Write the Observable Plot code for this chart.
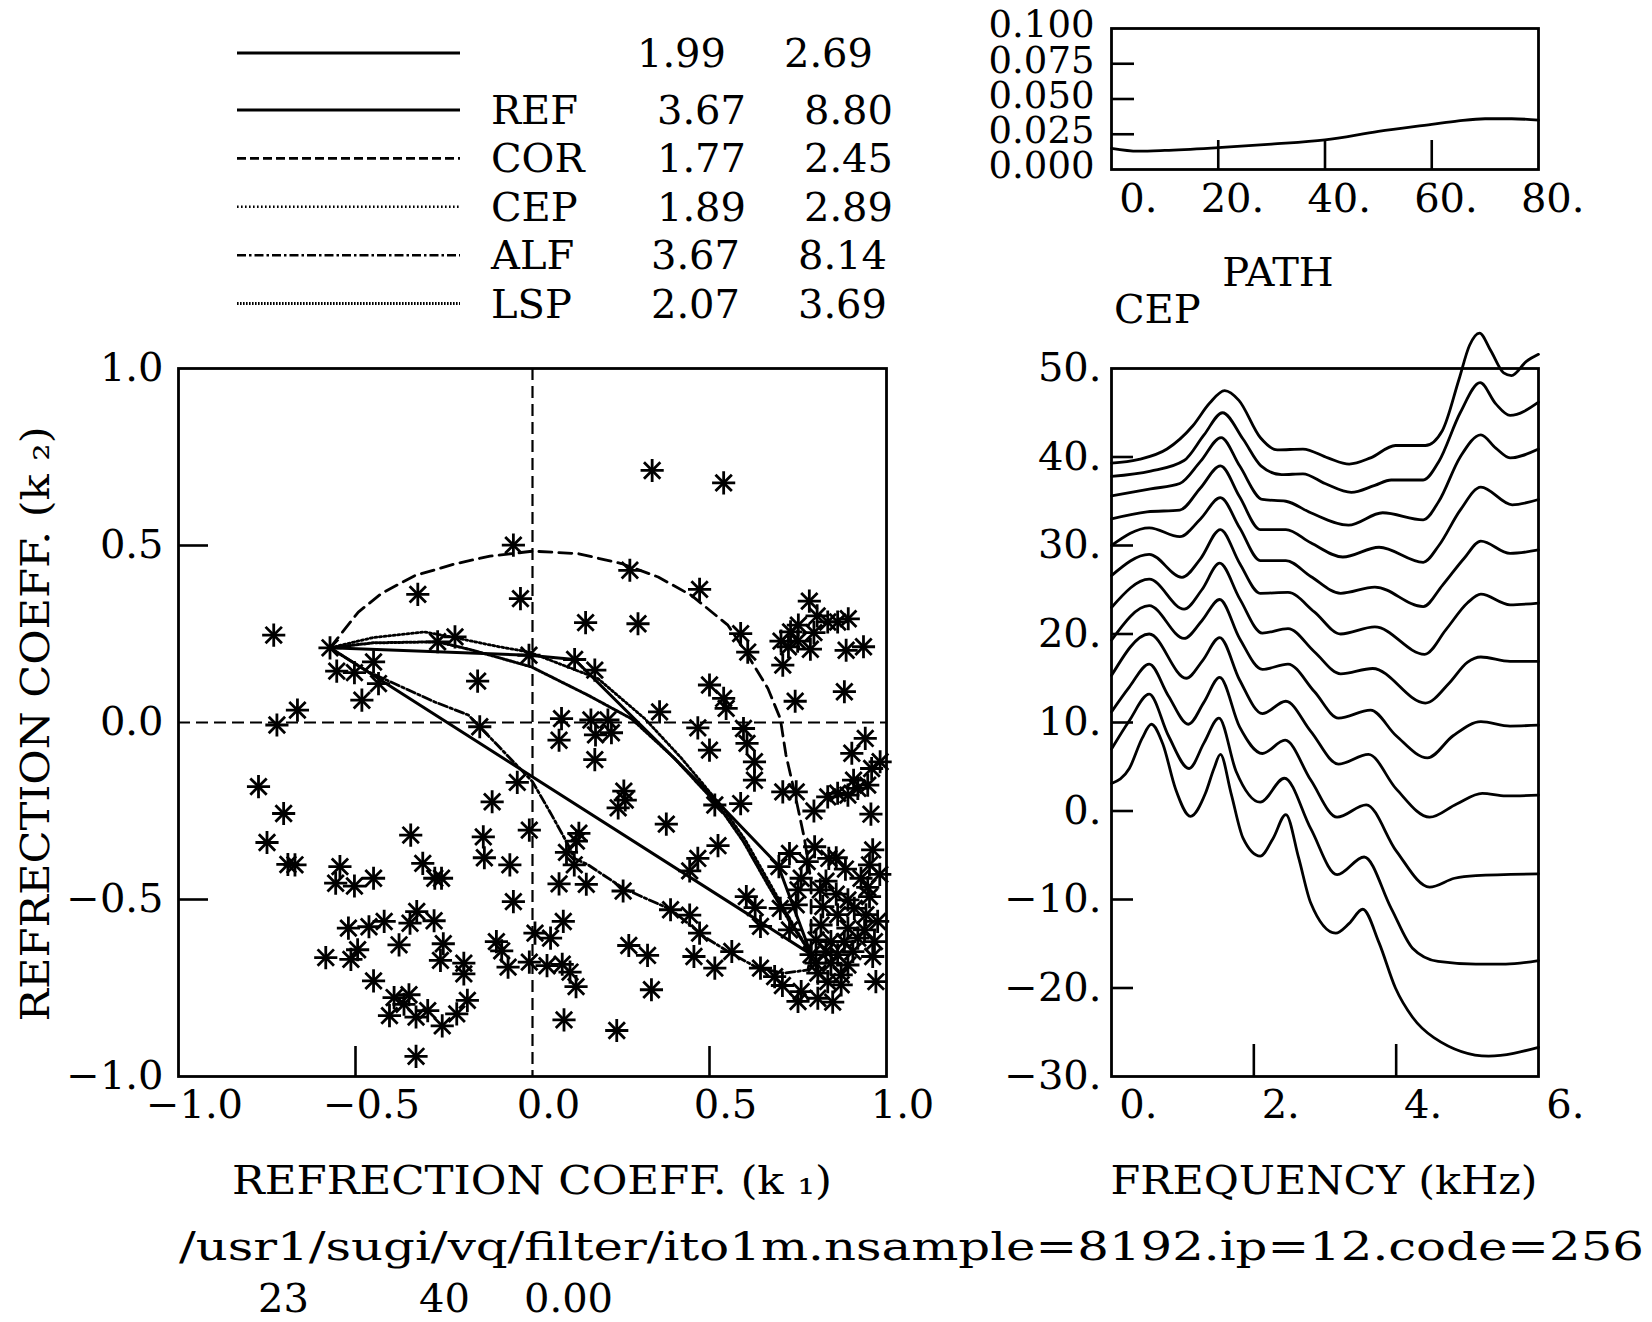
<!DOCTYPE html>
<html>
<head>
<meta charset="utf-8">
<script src="https://cdn.jsdelivr.net/npm/d3@7"></script>
<script src="https://cdn.jsdelivr.net/npm/@observablehq/plot@0.6"></script>
<style>
  html, body { margin: 0; padding: 0; background: #fff; }
  #root { position: relative; width: 1652px; height: 1322px; overflow: hidden; background: #fff; }
  .panel { position: absolute; }
  .panel svg { max-width: none !important; display: block; }
</style>
</head>
<body>
<div id="root"></div>
<script>
// ================= DATA =================
// Scatter of codebook vectors (k1, k2)
const scatterK1 = [
  -0.731,-0.572,-0.324,-0.553,-0.503,-0.449,-0.435,-0.482,-0.664,-0.722,-0.774,-0.268,-0.219,-0.155,-0.149,
  -0.703,-0.750,-0.691,-0.671,-0.544,-0.556,-0.503,-0.449,-0.344,-0.310,-0.276,-0.257,-0.520,-0.462,-0.419,-0.327,-0.346,-0.278,-0.377,-0.252,-0.260,-0.194,-0.194,-0.584,-0.513,-0.494,-0.449,-0.391,-0.349,-0.363,-0.404,-0.329,-0.296,-0.255,-0.214,-0.184,-0.329,
  0.338,0.540,-0.054,-0.034,0.275,0.472,0.150,0.298,-0.010,0.119,0.176,0.500,0.540,0.547,0.359,
  0.082,0.165,0.213,0.075,0.178,0.223,0.176,0.467,0.500,-0.043,-0.114,-0.139,-0.136,-0.064,-0.009,-0.054,0.075,0.152,0.256,0.087,0.007,0.051,-0.102,-0.087,-0.069,-0.009,0.041,0.084,0.106,0.123,0.089,0.238,0.272,0.325,0.336,0.390,0.444,0.472,0.456,0.515,0.258,0.262,0.242,0.378,0.524,0.467,0.444,0.515,0.131,0.124,0.096,0.118,
  0.588,0.608,0.782,0.804,0.834,0.862,0.892,0.751,0.729,0.702,0.723,0.749,0.795,0.785,0.886,0.935,0.707,0.881,0.742,0.596,0.606,0.627,0.627,0.940,0.902,0.958,0.982,0.907,0.947,0.707,0.745,0.834,0.862,0.891,
  0.919,0.588,0.795,0.956,0.726,0.696,0.776,0.797,0.837,0.858,0.884,0.961,0.952,0.981,0.928,0.947,0.952,0.759,0.829,0.750,0.813,0.858,0.604,0.629,0.700,0.745,0.820,0.891,0.909,0.644,0.726,0.862,0.942,0.975,0.815,0.891,0.938,0.801,0.843,0.881,0.919,0.966,0.829,0.862,0.905,0.961,0.787,0.801,0.843,0.891,0.806,0.872,0.834,0.872,0.970,0.563,0.644,0.684,0.706,0.759,0.750,0.806,0.848
];
const scatterK2 = [
  0.247,0.211,0.362,0.145,0.141,0.171,0.110,0.063,0.035,-0.007,-0.181,0.228,0.242,0.117,-0.012,
  -0.257,-0.339,-0.401,-0.402,-0.407,-0.454,-0.462,-0.440,-0.318,-0.398,-0.440,-0.440,-0.581,-0.577,-0.562,-0.534,-0.567,-0.560,-0.628,-0.625,-0.672,-0.680,-0.710,-0.664,-0.669,-0.642,-0.730,-0.777,-0.769,-0.796,-0.828,-0.832,-0.814,-0.857,-0.823,-0.785,-0.943,
  0.712,0.677,0.501,0.350,0.430,0.376,0.282,0.279,0.190,0.178,0.148,0.106,0.068,0.040,0.030,
  0.011,0.007,0.007,-0.050,-0.035,-0.029,-0.105,-0.015,-0.078,-0.169,-0.224,-0.323,-0.382,-0.402,-0.304,-0.506,-0.456,-0.457,-0.476,-0.562,-0.595,-0.609,-0.619,-0.645,-0.691,-0.677,-0.687,-0.683,-0.705,-0.746,-0.840,-0.870,-0.630,-0.658,-0.755,-0.529,-0.544,-0.595,-0.661,-0.694,-0.194,-0.219,-0.241,-0.287,-0.348,-0.384,-0.419,-0.233,-0.313,-0.335,-0.367,-0.402,
  0.251,0.199,0.343,0.301,0.284,0.284,0.293,0.275,0.256,0.230,0.214,0.230,0.254,0.207,0.204,0.214,0.162,0.087,0.060,-0.017,-0.059,-0.111,-0.163,-0.045,-0.087,-0.130,-0.111,-0.163,-0.177,-0.196,-0.196,-0.210,-0.200,-0.205,
  -0.186,-0.229,-0.250,-0.259,-0.370,-0.407,-0.393,-0.351,-0.384,-0.382,-0.414,-0.360,-0.402,-0.429,-0.440,-0.466,-0.492,-0.440,-0.448,-0.473,-0.473,-0.485,-0.492,-0.523,-0.525,-0.515,-0.520,-0.501,-0.525,-0.576,-0.586,-0.543,-0.543,-0.562,-0.572,-0.581,-0.586,-0.614,-0.619,-0.619,-0.609,-0.619,-0.647,-0.656,-0.647,-0.661,-0.656,-0.680,-0.680,-0.685,-0.708,-0.713,-0.732,-0.741,-0.732,-0.647,-0.694,-0.718,-0.743,-0.760,-0.788,-0.779,-0.790
];

// Interpolation paths (k1, k2)
const straightK1 = [-0.572, 0.787];
const straightK2 = [0.211, -0.655];
const refK1 = [-0.572, -0.010, 0.119, 0.477, 0.693, 0.787];
const refK2 = [0.211, 0.190, 0.178, -0.177, -0.402, -0.655];
const corK1 = [-0.572,-0.492,-0.426,-0.332,-0.219,-0.120,0.000,0.129,0.251,0.355,0.449,0.552,0.608,0.665,0.700,0.716,0.740,0.768,0.787,0.787];
const corK2 = [0.211,0.312,0.365,0.415,0.448,0.470,0.484,0.477,0.449,0.411,0.359,0.275,0.190,0.096,0.011,-0.092,-0.196,-0.327,-0.449,-0.655];
const cepK1 = [-0.572,-0.450,-0.306,-0.221,-0.100,-0.010,0.185,0.317,0.420,0.533,0.600,0.665,0.730,0.787];
const cepK2 = [0.211,0.240,0.256,0.240,0.215,0.199,0.124,0.011,-0.100,-0.235,-0.330,-0.445,-0.560,-0.655];
const alfK1 = [-0.572,-0.463,-0.276,-0.181,-0.149,0.000,0.054,0.101,0.119,0.157,0.256,0.392,0.486,0.561,0.637,0.712,0.778,0.787];
const alfK2 = [0.211,0.143,0.058,0.021,-0.012,-0.167,-0.261,-0.346,-0.384,-0.402,-0.468,-0.529,-0.606,-0.652,-0.694,-0.708,-0.699,-0.655];
const lspK1 = [-0.572,-0.450,-0.268,-0.172,-0.003,0.157,0.279,0.400,0.525,0.595,0.660,0.725,0.787];
const lspK2 = [0.211,0.225,0.228,0.205,0.157,0.077,0.011,-0.100,-0.235,-0.335,-0.450,-0.560,-0.655];

// Legend table
const legendNames = ["", "REF", "COR", "CEP", "ALF", "LSP"];
const legendDist1 = ["1.99", "3.67", "1.77", "1.89", "3.67", "2.07"];
const legendDist2 = ["2.69", "8.80", "2.45", "2.89", "8.14", "3.69"];

// Spectral envelopes along the path (kHz, dB), top to bottom
const cep01 = [[0,39.3],[0.37,39.7],[0.78,40.9],[1.14,43.5],[1.38,46.1],[1.59,47.5],[1.79,46.4],[2.09,42.2],[2.33,40.8],[2.69,40.9],[3.04,39.9],[3.34,39.2],[3.64,39.9],[3.99,41.3],[4.41,41.3],[4.65,43.0],[4.88,48.7],[5.03,52.6],[5.17,54.0],[5.33,52.0],[5.51,49.5],[5.62,49.2],[5.83,50.8],[6.0,51.6]];
const cep02 = [[0,37.8],[0.55,38.4],[1.02,39.6],[1.3,42.5],[1.56,45.0],[1.85,42.0],[2.1,39.0],[2.39,38.0],[2.69,38.1],[3.0,37.0],[3.37,36.0],[3.7,36.8],[3.93,37.4],[4.38,37.4],[4.6,39.5],[4.9,45.0],[5.18,48.4],[5.4,46.0],[5.6,44.7],[6.0,46.2]];
const cep03 = [[0,35.6],[0.55,36.4],[0.96,37.0],[1.25,39.5],[1.54,42.2],[1.8,39.0],[2.12,35.2],[2.45,35.0],[2.8,33.7],[3.33,32.3],[3.81,33.7],[4.38,32.9],[4.6,35.0],[4.9,40.0],[5.19,42.5],[5.4,41.0],[5.6,39.9],[6.0,40.9]];
const cep04 = [[0,33.0],[0.5,33.8],[0.96,34.0],[1.25,36.5],[1.53,39.0],[1.8,35.5],[2.09,31.8],[2.45,31.8],[2.8,30.3],[3.25,28.7],[3.76,29.8],[4.38,28.1],[4.6,30.0],[4.9,34.0],[5.19,36.6],[5.63,34.6],[6.0,35.2]];
const cep05 = [[0,30.0],[0.53,32.0],[0.96,31.0],[1.25,33.0],[1.53,35.4],[1.8,32.0],[2.09,28.3],[2.45,28.3],[2.8,26.5],[3.22,24.6],[3.70,25.3],[4.38,23.1],[4.65,25.5],[4.95,28.5],[5.19,30.5],[5.6,29.1],[6.0,29.5]];
const cep06 = [[0,26.6],[0.53,29.0],[0.99,26.4],[1.25,28.5],[1.53,31.8],[1.8,28.0],[2.09,24.6],[2.48,24.7],[2.85,22.5],[3.22,20.0],[3.70,20.8],[4.40,17.7],[4.7,20.5],[5.0,23.5],[5.19,24.5],[5.6,23.3],[6.0,23.5]];
const cep07 = [[0,23.0],[0.53,26.2],[1.02,22.8],[1.27,25.0],[1.52,28.0],[1.8,24.0],[2.12,20.1],[2.48,20.6],[2.85,18.0],[3.22,15.5],[3.67,16.1],[4.41,12.2],[4.75,14.5],[5.0,16.8],[5.19,17.4],[5.6,16.9],[6.0,16.9]];
const cep08 = [[0,19.3],[0.53,23.2],[1.02,19.5],[1.27,21.5],[1.52,23.9],[1.8,19.5],[2.12,16.0],[2.48,16.6],[2.85,13.5],[3.19,10.5],[3.64,11.4],[4.0,8.5],[4.44,6.0],[4.8,8.5],[5.19,10.1],[5.6,9.6],[6.0,9.7]];
const cep09 = [[0,15.3],[0.53,20.0],[1.05,15.0],[1.28,17.0],[1.52,19.6],[1.8,14.8],[2.12,11.0],[2.45,12.4],[2.8,9.0],[3.19,5.3],[3.61,6.4],[4.0,2.5],[4.47,-0.7],[4.85,0.8],[5.21,2.0],[5.54,1.7],[6.0,1.8]];
const cep10 = [[0,11.2],[0.25,14.0],[0.53,16.6],[0.8,13.0],[1.08,9.8],[1.3,12.3],[1.52,15.1],[1.8,9.5],[2.12,6.5],[2.44,8.0],[2.8,3.5],[3.17,-0.7],[3.58,0.7],[4.0,-4.5],[4.47,-8.6],[4.82,-7.6],[5.12,-7.3],[6.0,-7.1]];
const cep11 = [[0,7.0],[0.25,10.2],[0.53,13.2],[0.8,8.5],[1.09,4.8],[1.3,7.7],[1.51,10.5],[1.75,4.5],[2.09,1.0],[2.43,3.7],[2.8,-2.0],[3.17,-7.2],[3.55,-5.2],[3.93,-11.0],[4.23,-15.5],[4.59,-17.0],[5.12,-17.3],[5.54,-17.3],[6.0,-16.9]];
const cep12 = [[0,3.1],[0.25,4.8],[0.43,8.2],[0.56,9.8],[0.72,7.6],[0.90,2.5],[1.11,-0.6],[1.32,2.0],[1.44,4.8],[1.53,6.4],[1.68,2.0],[1.85,-3.1],[2.09,-5.1],[2.27,-3.1],[2.45,-0.4],[2.63,-5.3],[2.80,-10.4],[3.15,-13.8],[3.34,-12.7],[3.53,-11.1],[3.76,-14.9],[3.99,-20.0],[4.23,-23.3],[4.53,-25.6],[5.30,-27.7],[6.0,-26.7]];
const cepSpectra = [cep01, cep02, cep03, cep04, cep05, cep06, cep07, cep08, cep09, cep10, cep11, cep12];

// Distance along path
const pathX = [0, 5, 10, 20, 30, 40, 50, 60, 65, 70, 75, 80];
const pathY = [0.015, 0.013, 0.0135, 0.0155, 0.018, 0.021, 0.027, 0.032, 0.0345, 0.036, 0.036, 0.035];

// Tick values
const scatterTicks = [-1, -0.5, 0, 0.5, 1];
const scatterInner = [-0.5, 0.5];
const cepXTicks = [0, 2, 4, 6];
const cepXInner = [2, 4];
const cepYTicks = [50, 40, 30, 20, 10, 0, -10, -20, -30];
const cepYInner = [40, 30, 20, 10, 0, -10, -20];
const pathXTicks = [0, 20, 40, 60, 80];
const pathXInner = [20, 40, 60];
const pathYTicks = [0, 0.025, 0.05, 0.075, 0.1];
const pathYInner = [0.025, 0.05, 0.075];

// Text
const xTitle = "REFRECTION COEFF. (k \u2081)";
const yTitle = "REFRECTION COEFF. (k \u2082)";
const freqTitle = "FREQUENCY (kHz)";
const pathTitle = "PATH";
const cepTitle = "CEP";
const fileCaption = "/usr1/sugi/vq/filter/ito1m.nsample=8192.ip=12.code=256";
const captionNumbers = ["23", "40", "0.00"];

// ================= RENDER =================
const FONT = "'DejaVu Serif', 'Liberation Serif', serif";
const FS = 40;
const root = document.getElementById("root");
const minus = s => s.replace("-", "\u2212");
const baseStyle = {background: "transparent", overflow: "visible", fontFamily: FONT, fontSize: FS + "px", color: "black"};

function place(node, left, top) {
  const div = document.createElement("div");
  div.className = "panel";
  div.style.left = left + "px";
  div.style.top = top + "px";
  div.appendChild(node);
  root.appendChild(div);
}

// ---- overlay: legend and captions ----
const ov = d3.create("svg").attr("width", 1652).attr("height", 1322)
  .attr("font-family", FONT).attr("font-size", FS)
  .style("position", "absolute").style("left", "0px").style("top", "0px");
const legendDash = [null, null, "9,4", "1.6,2.4", "9,3,2.5,3", "1.6,1.4"];
const legendWidth = [3.2, 3, 2.6, 2.4, 2.6, 3];
legendNames.forEach((name, i) => {
  const y = i === 0 ? 53 : 110 + (i - 1) * 48.4;
  const shift = i === 0 ? -20 : (i >= 4 ? -6 : 0);
  ov.append("line").attr("x1", 237).attr("x2", 460).attr("y1", y).attr("y2", y)
    .attr("stroke", "black").attr("stroke-width", legendWidth[i])
    .attr("stroke-dasharray", legendDash[i]);
  ov.append("text").attr("x", 491).attr("y", y).attr("dominant-baseline", "central").text(name);
  ov.append("text").attr("x", 746 + shift).attr("y", y).attr("text-anchor", "end").attr("dominant-baseline", "central").text(legendDist1[i]);
  ov.append("text").attr("x", 893 + shift).attr("y", y).attr("text-anchor", "end").attr("dominant-baseline", "central").text(legendDist2[i]);
});
ov.append("text").attr("x", 532).attr("y", 1180).attr("text-anchor", "middle").attr("dominant-baseline", "central")
  .attr("textLength", 600).attr("lengthAdjust", "spacingAndGlyphs").text(xTitle);
ov.append("text").attr("transform", "translate(35,724) rotate(-90)").attr("text-anchor", "middle").attr("dominant-baseline", "central")
  .attr("textLength", 595).attr("lengthAdjust", "spacingAndGlyphs").text(yTitle);
ov.append("text").attr("x", 1324).attr("y", 1180).attr("text-anchor", "middle").attr("dominant-baseline", "central")
  .attr("textLength", 427).attr("lengthAdjust", "spacingAndGlyphs").text(freqTitle);
ov.append("text").attr("x", 1278).attr("y", 272).attr("text-anchor", "middle").attr("dominant-baseline", "central").text(pathTitle);
ov.append("text").attr("x", 1114).attr("y", 309).attr("dominant-baseline", "central").text(cepTitle);
ov.append("text").attr("x", 179).attr("y", 1246).attr("dominant-baseline", "central")
  .attr("textLength", 1465).attr("lengthAdjust", "spacingAndGlyphs").text(fileCaption);
[258, 419, 524].forEach((x, i) => {
  ov.append("text").attr("x", x).attr("y", 1298).attr("dominant-baseline", "central").text(captionNumbers[i]);
});
root.appendChild(ov.node());

// ---- scatter panel ----
const scFrameW = 708, scFrameH = 708;
const scatterData = scatterK1.map((k1, i) => ({k1, k2: scatterK2[i]}));
const mkPath = (xs, ys) => xs.map((k1, i) => ({k1, k2: ys[i]}));
const fmtScatter = d => minus(d.toFixed(1));
const scatter = Plot.plot({
  width: 940, height: 820, marginLeft: 178, marginRight: 54, marginTop: 38, marginBottom: 74,
  x: {domain: [-1, 1], axis: null},
  y: {domain: [-1, 1], axis: null},
  style: baseStyle,
  marks: [
    Plot.ruleX([0], {strokeDasharray: "12,6", strokeWidth: 2.2}),
    Plot.ruleY([0], {strokeDasharray: "12,6", strokeWidth: 2.2}),
    Plot.line(mkPath(straightK1, straightK2), {x: "k1", y: "k2", strokeWidth: 3}),
    Plot.line(mkPath(refK1, refK2), {x: "k1", y: "k2", strokeWidth: 3}),
    Plot.line(mkPath(corK1, corK2), {x: "k1", y: "k2", strokeWidth: 2.8, strokeDasharray: "13,7"}),
    Plot.line(mkPath(cepK1, cepK2), {x: "k1", y: "k2", strokeWidth: 2.8, strokeDasharray: "2,2.6"}),
    Plot.line(mkPath(alfK1, alfK2), {x: "k1", y: "k2", strokeWidth: 2.8, strokeDasharray: "9,3,2.5,3"}),
    Plot.line(mkPath(lspK1, lspK2), {x: "k1", y: "k2", strokeWidth: 3, strokeDasharray: "2,1.8"}),
    Plot.dot(scatterData, {x: "k1", y: "k2", symbol: "plus", r: 7.5, stroke: "black", fill: "none", strokeWidth: 2.8}),
    Plot.dot(scatterData, {x: "k1", y: "k2", symbol: "times", r: 7.5, stroke: "black", fill: "none", strokeWidth: 2.8}),
    Plot.tickX(scatterInner, {x: d => d, insetTop: scFrameH - 30, strokeWidth: 2.6}),
    Plot.tickY(scatterInner, {y: d => d, insetRight: scFrameW - 30, strokeWidth: 2.6}),
    Plot.frame({strokeWidth: 2.8}),
    Plot.text(scatterTicks, {x: d => d, text: fmtScatter, frameAnchor: "bottom", dy: 41, dx: 16, fontSize: FS}),
    Plot.text(scatterTicks, {y: d => d, text: fmtScatter, frameAnchor: "left", textAnchor: "end", dx: -15, fontSize: FS})
  ]
});
place(scatter, 0, 330);

// ---- spectrum panel ----
const spFrameW = 427, spFrameH = 708;
const cepRows = cepSpectra.flatMap((curve, i) => curve.map(([f, db]) => ({curve: i, f, db})));
const fmtDot = d => minus(d.toFixed(0)) + ".";
const spectrum = Plot.plot({
  width: 652, height: 850, marginLeft: 111, marginRight: 114, marginTop: 68, marginBottom: 74,
  x: {domain: [0, 6], axis: null},
  y: {domain: [-30, 50], axis: null},
  style: baseStyle,
  marks: [
    Plot.line(cepRows, {x: "f", y: "db", z: "curve", curve: "monotone-x", strokeWidth: 2.8}),
    Plot.tickX(cepXInner, {x: d => d, insetTop: spFrameH - 32, strokeWidth: 2.6}),
    Plot.tickY(cepYInner, {y: d => d, insetRight: spFrameW - 22, strokeWidth: 2.6}),
    Plot.frame({strokeWidth: 2.8}),
    Plot.text(cepXTicks, {x: d => d, text: fmtDot, frameAnchor: "bottom", dy: 41, dx: 46, textAnchor: "end", fontSize: FS}),
    Plot.text(cepYTicks, {y: d => d, text: fmtDot, frameAnchor: "left", textAnchor: "end", dx: -10, fontSize: FS})
  ]
});
place(spectrum, 1000, 300);

// ---- path distance panel ----
const ptFrameW = 427, ptFrameH = 141;
const pathRows = pathX.map((x, i) => ({x, y: pathY[i]}));
const path = Plot.plot({
  width: 652, height: 240, marginLeft: 111, marginRight: 114, marginTop: 28, marginBottom: 71,
  x: {domain: [0, 80], axis: null},
  y: {domain: [0, 0.1], axis: null},
  style: baseStyle,
  marks: [
    Plot.line(pathRows, {x: "x", y: "y", curve: "monotone-x", strokeWidth: 2.8}),
    Plot.tickX(pathXInner, {x: d => d, insetTop: ptFrameH - 29, strokeWidth: 2.6}),
    Plot.tickY(pathYInner, {y: d => d, insetRight: ptFrameW - 23, strokeWidth: 2.6}),
    Plot.frame({strokeWidth: 2.8}),
    Plot.text(pathXTicks, {x: d => d, text: d => d.toFixed(0) + ".", frameAnchor: "bottom", dy: 42, dx: 46, textAnchor: "end", fontSize: FS}),
    Plot.text(pathYTicks, {y: d => d, text: d => d.toFixed(3), frameAnchor: "left", textAnchor: "end", dx: -17, dy: -3, fontSize: 37})
  ]
});
place(path, 1000, 0);
</script>
</body>
</html>
